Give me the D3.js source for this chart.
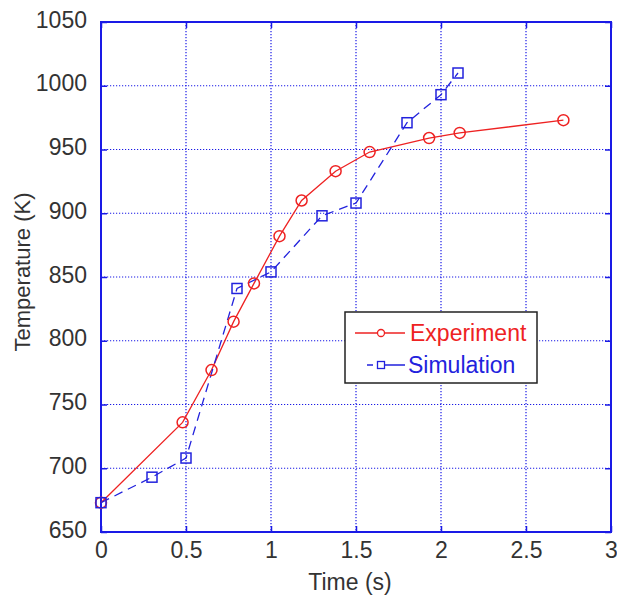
<!DOCTYPE html>
<html>
<head>
<meta charset="utf-8">
<script src="https://cdn.jsdelivr.net/npm/d3@7"></script>
<style>
  body { margin: 0; background: #fff; }
  text { font-family: "Liberation Sans", Arial, sans-serif; }
</style>
</head>
<body>
<svg id="chart"></svg>
<script>
// data
const expTime = [0, 0.48, 0.65, 0.78, 0.9, 1.05, 1.18, 1.38, 1.58, 1.93, 2.11, 2.72]
const expTemp = [673, 736, 777, 815, 845, 882, 910, 933, 948, 959, 963, 973]
const simTime = [0, 0.3, 0.5, 0.8, 1.0, 1.3, 1.5, 1.8, 2.0, 2.1]
const simTemp = [673, 693, 708, 841, 854, 898, 908, 971, 993, 1010]
const xTicks = [0, 0.5, 1, 1.5, 2, 2.5, 3]
const yTicks = [650, 700, 750, 800, 850, 900, 950, 1000, 1050]
const seriesNames = ["Experiment", "Simulation"]

const RED = "#ee2222"
const BLUE = "#2222dd"
const AXIS = "#1a1ae6"
const TEXT = "#333"

let dimensions = {
  width: 617,
  height: 599,
  margin: { top: 22, right: 6, bottom: 67, left: 101 },
}
dimensions.boundedWidth = dimensions.width - dimensions.margin.left - dimensions.margin.right
dimensions.boundedHeight = dimensions.height - dimensions.margin.top - dimensions.margin.bottom

const wrapper = d3.select("#chart")
    .attr("width", dimensions.width)
    .attr("height", dimensions.height)

const bounds = wrapper.append("g")
    .attr("transform", `translate(${dimensions.margin.left},${dimensions.margin.top})`)

// scales
const xScale = d3.scaleLinear().domain([0, 3]).range([0, dimensions.boundedWidth])
const yScale = d3.scaleLinear().domain([650, 1050]).range([dimensions.boundedHeight, 0])

// grid (dotted blue)
bounds.append("g").selectAll("line").data(xTicks.slice(1, -1)).join("line")
    .attr("x1", d => xScale(d)).attr("x2", d => xScale(d))
    .attr("y1", 0).attr("y2", dimensions.boundedHeight)
    .attr("stroke", AXIS).attr("stroke-width", 1.2).attr("stroke-dasharray", "1.2,1.8")
bounds.append("g").selectAll("line").data(yTicks.slice(1, -1)).join("line")
    .attr("y1", d => yScale(d)).attr("y2", d => yScale(d))
    .attr("x1", 0).attr("x2", dimensions.boundedWidth)
    .attr("stroke", AXIS).attr("stroke-width", 1.2).attr("stroke-dasharray", "1.2,1.8")

// axes, ticks pointing inward on all four sides
const tickLen = 6
const styleAxis = g => {
  g.select(".domain").remove()
  g.selectAll(".tick line").attr("stroke", AXIS).attr("stroke-width", 1.5)
}
bounds.append("g")
    .attr("transform", `translate(0,${dimensions.boundedHeight})`)
    .call(d3.axisBottom(xScale).tickValues(xTicks).tickSize(-tickLen).tickFormat(d3.format("")).tickPadding(0))
    .call(styleAxis)
    .call(g => g.selectAll(".tick text").attr("y", 26).attr("dy", null)
        .attr("fill", TEXT).style("font-size", "23px"))
bounds.append("g")
    .call(d3.axisTop(xScale).tickValues(xTicks).tickSize(-tickLen).tickFormat(""))
    .call(styleAxis)
bounds.append("g")
    .call(d3.axisLeft(yScale).tickValues(yTicks).tickSize(-tickLen).tickFormat(d3.format("d")).tickPadding(0))
    .call(styleAxis)
    .call(g => g.selectAll(".tick text").attr("x", -14).attr("dy", null).attr("y", 5)
        .attr("fill", TEXT).style("font-size", "23px"))
bounds.append("g")
    .attr("transform", `translate(${dimensions.boundedWidth},0)`)
    .call(d3.axisRight(yScale).tickValues(yTicks).tickSize(-tickLen).tickFormat(""))
    .call(styleAxis)

bounds.append("rect")
    .attr("width", dimensions.boundedWidth)
    .attr("height", dimensions.boundedHeight)
    .attr("fill", "none")
    .attr("stroke", AXIS)
    .attr("stroke-width", 2)

// axis titles
wrapper.append("text")
    .attr("x", 350).attr("y", 590)
    .attr("text-anchor", "middle")
    .attr("fill", TEXT)
    .style("font-size", "23px")
    .text("Time (s)")
wrapper.append("text")
    .attr("transform", "translate(30,272) rotate(-90)")
    .attr("text-anchor", "middle")
    .attr("fill", TEXT)
    .style("font-size", "22px")
    .text("Temperature (K)")

// series
const expData = expTime.map((t, i) => [t, expTemp[i]])
const simData = simTime.map((t, i) => [t, simTemp[i]])
const line = d3.line().x(d => xScale(d[0])).y(d => yScale(d[1]))

bounds.append("path")
    .attr("d", line(expData))
    .attr("fill", "none").attr("stroke", RED).attr("stroke-width", 1.3)
bounds.append("path")
    .attr("d", line(simData))
    .attr("fill", "none").attr("stroke", BLUE).attr("stroke-width", 1.3)
    .attr("stroke-dasharray", "9,6")

bounds.append("g").selectAll("circle").data(expData).join("circle")
    .attr("cx", d => xScale(d[0])).attr("cy", d => yScale(d[1]))
    .attr("r", 5.5)
    .attr("fill", "none").attr("stroke", RED).attr("stroke-width", 1.5)
bounds.append("g").selectAll("rect").data(simData).join("rect")
    .attr("x", d => xScale(d[0]) - 5).attr("y", d => yScale(d[1]) - 5)
    .attr("width", 10).attr("height", 10)
    .attr("fill", "none").attr("stroke", BLUE).attr("stroke-width", 1.5)

// legend
const legend = wrapper.append("g").attr("transform", "translate(345,312)")
legend.append("rect")
    .attr("width", 192).attr("height", 71)
    .attr("fill", "#fff").attr("stroke", "#222").attr("stroke-width", 1.5)

const expRow = legend.append("g").attr("transform", "translate(0,21)")
expRow.append("line").attr("x1", 10).attr("x2", 60)
    .attr("stroke", RED).attr("stroke-width", 1.3)
expRow.append("circle").attr("cx", 36).attr("r", 3.5)
    .attr("fill", "#fff").attr("stroke", RED).attr("stroke-width", 1.3)
expRow.append("text").attr("x", 65).attr("y", 8)
    .attr("fill", RED).style("font-size", "23px").text(seriesNames[0])

const simRow = legend.append("g").attr("transform", "translate(0,53)")
simRow.append("line").attr("x1", 22).attr("x2", 60)
    .attr("stroke", BLUE).attr("stroke-width", 1.3)
    .attr("stroke-dasharray", "6,4,30")
simRow.append("rect").attr("x", 32.5).attr("y", -3.5).attr("width", 7).attr("height", 7)
    .attr("fill", "#fff").attr("stroke", BLUE).attr("stroke-width", 1.3)
simRow.append("text").attr("x", 63).attr("y", 8)
    .attr("fill", BLUE).style("font-size", "23px").text(seriesNames[1])
</script>
</body>
</html>
